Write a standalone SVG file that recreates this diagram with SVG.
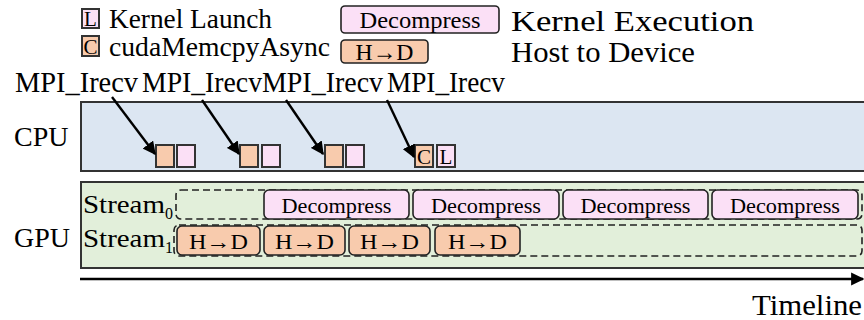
<svg xmlns="http://www.w3.org/2000/svg" width="864" height="320" viewBox="0 0 864 320" font-family="'Liberation Serif', 'Times New Roman', serif">
  <defs>
    <marker id="ah" viewBox="0 0 10 10" refX="9" refY="5" markerWidth="5.5" markerHeight="5.5" orient="auto" markerUnits="strokeWidth">
      <path d="M0,0 L10,5 L0,10 z" fill="#000"/>
    </marker>
    <style>
      text { font-family: 'Liberation Serif', 'Times New Roman', serif; fill: #000; }
      .copy { fill: #f8cbad; stroke: #222; stroke-width: 1.6; }
      .kern { fill: #fbe0f6; stroke: #222; stroke-width: 1.6; }
      .sq { fill: #f8cbad; stroke: #333; stroke-width: 2; }
      .sqk { fill: #fbe0f6; stroke: #333; stroke-width: 2; }
      .dash { fill: none; stroke: #222; stroke-width: 1.6; stroke-dasharray: 7 4; }
      .lane { stroke: #333; stroke-width: 2; }
      .conn { stroke: #000; stroke-width: 2.4; fill: none; marker-end: url(#ah); }
      .mid { text-anchor: middle; }
    </style>
  </defs>

  <!-- legend -->
  <g id="legend">
    <rect class="sqk" x="82" y="9" width="17" height="19"/>
    <text x="90.5" y="26" font-size="21" class="mid">L</text>
    <text x="109" y="28" font-size="28" textLength="163" lengthAdjust="spacingAndGlyphs">Kernel Launch</text>
    <rect class="sq" x="82" y="36" width="17" height="20"/>
    <text x="90.5" y="54" font-size="21" class="mid">C</text>
    <text x="109" y="56" font-size="28" textLength="221" lengthAdjust="spacingAndGlyphs">cudaMemcpyAsync</text>
    <rect class="kern" x="341" y="6" width="158" height="27" rx="4"/>
    <text x="420" y="28" font-size="24" class="mid" textLength="121" lengthAdjust="spacingAndGlyphs">Decompress</text>
    <rect class="copy" x="341" y="40" width="87" height="23" rx="4"/>
    <text x="384.5" y="60" font-size="24" class="mid" textLength="58" lengthAdjust="spacingAndGlyphs">H→D</text>
    <text x="511" y="31" font-size="30" textLength="243" lengthAdjust="spacingAndGlyphs">Kernel Execution</text>
    <text x="511" y="62" font-size="30" textLength="184" lengthAdjust="spacingAndGlyphs">Host to Device</text>
  </g>

  <!-- MPI receive labels -->
  <g id="mpi-labels" font-size="29">
    <text x="15" y="92" textLength="123" lengthAdjust="spacingAndGlyphs">MPI_Irecv</text>
    <text x="142" y="92" textLength="120" lengthAdjust="spacingAndGlyphs">MPI_Irecv</text>
    <text x="262" y="92" textLength="121" lengthAdjust="spacingAndGlyphs">MPI_Irecv</text>
    <text x="387" y="92" textLength="118" lengthAdjust="spacingAndGlyphs">MPI_Irecv</text>
  </g>

  <!-- CPU lane -->
  <g id="cpu">
    <rect class="lane" x="81" y="102" width="800" height="69" fill="#dce6f2"/>
    <text x="14" y="146" font-size="28">CPU</text>
    <rect class="sq" x="156" y="145" width="18" height="22"/>
    <rect class="sqk" x="177" y="145" width="18" height="22"/>
    <rect class="sq" x="240" y="145" width="18" height="22"/>
    <rect class="sqk" x="262" y="145" width="18" height="22"/>
    <rect class="sq" x="325" y="145" width="18" height="22"/>
    <rect class="sqk" x="346" y="145" width="18" height="22"/>
    <rect class="sq" x="415" y="145" width="18" height="22"/>
    <text x="424" y="164" font-size="21" class="mid">C</text>
    <rect class="sqk" x="437" y="145" width="18" height="22"/>
    <text x="446" y="164" font-size="21" class="mid">L</text>
  </g>

  <!-- GPU lane -->
  <g id="gpu">
    <rect class="lane" x="81" y="182" width="800" height="86" fill="#e2efda"/>
    <text x="14" y="247" font-size="28">GPU</text>
    <text x="83" y="213" font-size="25" textLength="82" lengthAdjust="spacingAndGlyphs">Stream</text>
    <text x="165" y="219" font-size="16">0</text>
    <text x="83" y="247" font-size="25" textLength="82" lengthAdjust="spacingAndGlyphs">Stream</text>
    <text x="165" y="253" font-size="16">1</text>
  </g>

  <!-- stream 0: decompress kernels -->
  <g id="stream0">
    <rect class="dash" x="176" y="190" width="686" height="29" rx="5"/>
    <rect class="kern" x="264" y="190" width="145" height="29" rx="5"/>
    <text x="336.5" y="213" font-size="22" class="mid" textLength="110" lengthAdjust="spacingAndGlyphs">Decompress</text>
    <rect class="kern" x="413" y="190" width="146" height="29" rx="5"/>
    <text x="486" y="213" font-size="22" class="mid" textLength="110" lengthAdjust="spacingAndGlyphs">Decompress</text>
    <rect class="kern" x="563" y="190" width="145" height="29" rx="5"/>
    <text x="635.5" y="213" font-size="22" class="mid" textLength="110" lengthAdjust="spacingAndGlyphs">Decompress</text>
    <rect class="kern" x="712" y="190" width="146" height="29" rx="5"/>
    <text x="785" y="213" font-size="22" class="mid" textLength="110" lengthAdjust="spacingAndGlyphs">Decompress</text>
  </g>

  <!-- stream 1: host-to-device copies -->
  <g id="stream1">
    <rect class="dash" x="174" y="225" width="688" height="31" rx="5"/>
    <rect class="copy" x="177" y="226" width="83" height="29" rx="5"/>
    <text x="218.5" y="249" font-size="22" class="mid" textLength="59" lengthAdjust="spacingAndGlyphs">H→D</text>
    <rect class="copy" x="264" y="226" width="81" height="29" rx="5"/>
    <text x="304.5" y="249" font-size="22" class="mid" textLength="59" lengthAdjust="spacingAndGlyphs">H→D</text>
    <rect class="copy" x="349" y="226" width="81" height="29" rx="5"/>
    <text x="389.5" y="249" font-size="22" class="mid" textLength="59" lengthAdjust="spacingAndGlyphs">H→D</text>
    <rect class="copy" x="435" y="226" width="85" height="29" rx="5"/>
    <text x="477.5" y="249" font-size="22" class="mid" textLength="59" lengthAdjust="spacingAndGlyphs">H→D</text>
  </g>

  <!-- connectors -->
  <g id="connectors">
    <line class="conn" x1="112" y1="97" x2="155" y2="154"/>
    <line class="conn" x1="202" y1="100" x2="239" y2="154"/>
    <line class="conn" x1="286" y1="100" x2="323" y2="154"/>
    <line class="conn" x1="387" y1="100" x2="414" y2="157"/>
    <line class="conn" x1="80" y1="279" x2="863" y2="279"/>
  </g>

  <text x="752" y="315" font-size="30" textLength="110" lengthAdjust="spacingAndGlyphs">Timeline</text>
</svg>
